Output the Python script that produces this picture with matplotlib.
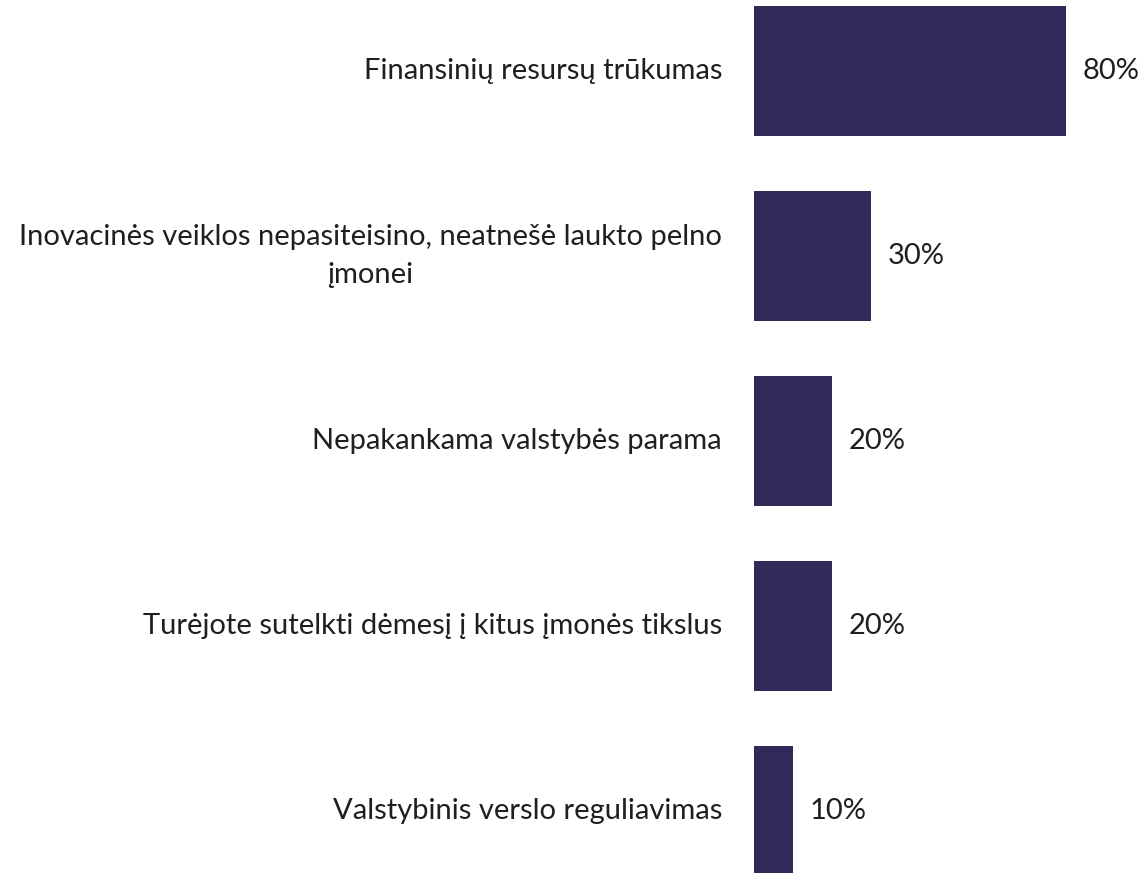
import matplotlib
matplotlib.use('Agg')
import matplotlib.pyplot as plt
import numpy as np

categories = ['Finansinių resursų trūkumas',
              'Inovacinės veiklos nepasiteisino, neatnešė laukto pelno\nįmonei',
              'Nepakankama valstybės parama',
              'Turėjote sutelkti dėmesį į kitus įmonės tikslus',
              'Valstybinis verslo reguliavimas']
values = [80, 30, 20, 20, 10]
labels = ['80%', '30%', '20%', '20%', '10%']

bar_color = '#312A58'
text_color = '#1f1f1f'
font = ['Lato', 'DejaVu Sans']

fig = plt.figure(figsize=(11.45, 8.73), dpi=100)
ax = fig.add_axes([754 / 1145, 0, 1 - 754 / 1145, 1])

y = np.arange(len(values))
ax.barh(y, values, height=0.7, color=bar_color)
ax.set_xlim(0, 100.3)
ax.set_ylim(4.335, -0.384)

for yi, v, lab, cat in zip(y, values, labels, categories):
    ax.text(v + 4.3, yi, lab, va='center', ha='left', fontsize=21,
            family=font, color=text_color)
    ax.annotate(cat, xy=(0, yi), xytext=(-32, 0), textcoords='offset pixels',
                va='center', ha='right', multialignment='center', fontsize=21,
                family=font, color=text_color,
                linespacing=1.6, annotation_clip=False)

ax.axis('off')
fig.savefig('out.png', dpi=100)
